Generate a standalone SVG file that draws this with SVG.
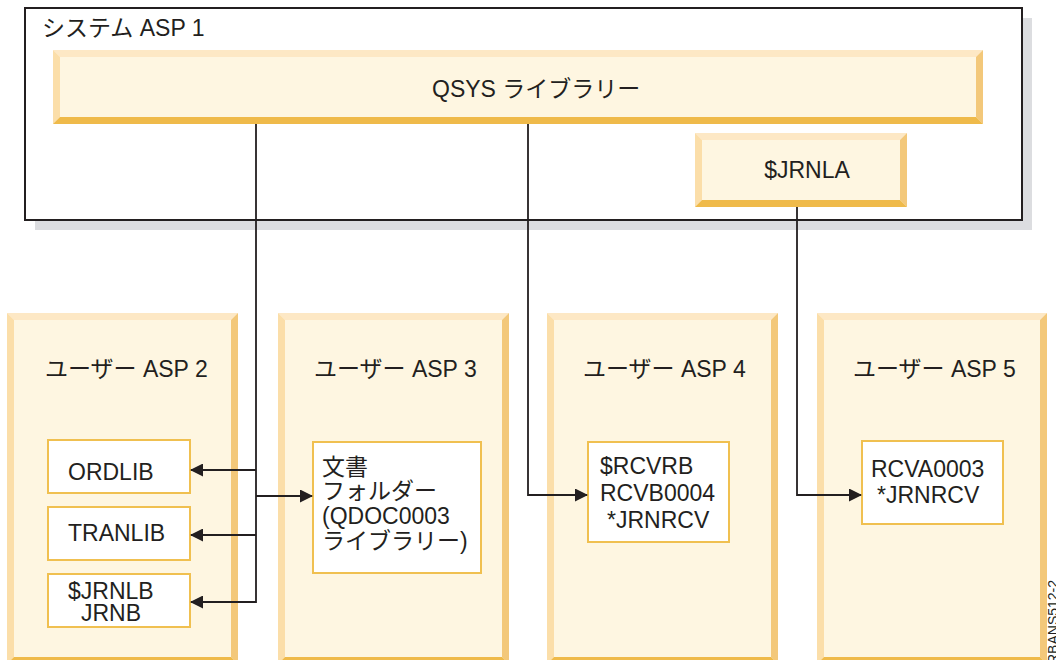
<svg xmlns="http://www.w3.org/2000/svg" width="1056" height="660" viewBox="0 0 1056 660">
<defs>
<style>
text{font-family:"Liberation Sans","Noto Sans CJK JP",sans-serif;font-size:23px;fill:#231f20}
.fill{fill:#fef6e1}
.bt{fill:#fde8c5}
.bl{fill:#fbdea9}
.br{fill:#f3c87a}
.bb{fill:#efba4a}
.lib{fill:#ffffff;stroke:#f0c050;stroke-width:2}
.conn{fill:none;stroke:#231f20;stroke-width:1.8}
</style>
<marker id="arr" markerUnits="userSpaceOnUse" markerWidth="13" markerHeight="13" refX="12" refY="6.5" orient="auto">
<path d="M0,0 L13,6.5 L0,13 z" fill="#231f20"/>
</marker>
</defs>
<rect width="1056" height="660" fill="#ffffff"/>

<g id="system-asp1">
<rect x="35" y="18" width="997" height="212" fill="#dcdde0"/>
<rect x="25" y="8" width="997" height="212" fill="#ffffff" stroke="#231f20" stroke-width="2"/>
<text x="42" y="36">システム ASP 1</text>
</g>

<g id="qsys">
<rect class="fill" x="53" y="50" width="930" height="74"/>
<polygon class="bt" points="53,50 983,50 976,57 60,57"/>
<polygon class="bl" points="53,50 60,57 60,117 53,124"/>
<polygon class="br" points="983,50 983,124 976,117 976,57"/>
<polygon class="bb" points="53,124 60,117 976,117 983,124"/>
<text x="432" y="97">QSYS ライブラリー</text>
</g>

<g id="jrnla">
<rect class="fill" x="695" y="133" width="212" height="74"/>
<polygon class="bt" points="695,133 907,133 900,140 702,140"/>
<polygon class="bl" points="695,133 702,140 702,200 695,207"/>
<polygon class="br" points="907,133 907,207 900,200 900,140"/>
<polygon class="bb" points="695,207 702,200 900,200 907,207"/>
<text x="807" y="178" text-anchor="middle">$JRNLA</text>
</g>

<g id="user-asp2">
<rect class="fill" x="7" y="313" width="231" height="351"/>
<polygon class="bt" points="7,313 238,313 231,320 14,320"/>
<polygon class="bl" points="7,313 14,320 14,657 7,664"/>
<polygon class="br" points="238,313 238,664 231,657 231,320"/>
<polygon class="bb" points="7,664 14,657 231,657 238,664"/>
<text x="45" y="377">ユーザー ASP 2</text>
</g>
<g id="ordlib">
<rect class="lib" x="48" y="440" width="142" height="53"/>
<text x="68" y="480">ORDLIB</text>
</g>
<g id="tranlib">
<rect class="lib" x="48" y="507" width="142" height="53"/>
<text x="68" y="541">TRANLIB</text>
</g>
<g id="jrnlb">
<rect class="lib" x="48" y="574" width="142" height="53"/>
<text x="68" y="599">$JRNLB</text>
<text x="81" y="621">JRNB</text>
</g>

<g id="user-asp3">
<rect class="fill" x="278" y="313" width="231" height="351"/>
<polygon class="bt" points="278,313 509,313 502,320 285,320"/>
<polygon class="bl" points="278,313 285,320 285,657 278,664"/>
<polygon class="br" points="509,313 509,664 502,657 502,320"/>
<polygon class="bb" points="278,664 285,657 502,657 509,664"/>
<text x="314" y="377">ユーザー ASP 3</text>
</g>
<g id="document-folder">
<rect class="lib" x="313" y="442" width="168" height="131"/>
<text x="322" y="475">文書</text>
<text x="322" y="499">フォルダー</text>
<text x="322" y="524">(QDOC0003</text>
<text x="322" y="549">ライブラリー)</text>
</g>

<g id="user-asp4">
<rect class="fill" x="547" y="313" width="231" height="351"/>
<polygon class="bt" points="547,313 778,313 771,320 554,320"/>
<polygon class="bl" points="547,313 554,320 554,657 547,664"/>
<polygon class="br" points="778,313 778,664 771,657 771,320"/>
<polygon class="bb" points="547,664 554,657 771,657 778,664"/>
<text x="583" y="377">ユーザー ASP 4</text>
</g>
<g id="rcvrb">
<rect class="lib" x="588" y="442" width="141" height="100"/>
<text x="600" y="474">$RCVRB</text>
<text x="600" y="501">RCVB0004</text>
<text x="607" y="528">*JRNRCV</text>
</g>

<g id="user-asp5">
<rect class="fill" x="817" y="313" width="230" height="351"/>
<polygon class="bt" points="817,313 1047,313 1040,320 824,320"/>
<polygon class="bl" points="817,313 824,320 824,657 817,664"/>
<polygon class="br" points="1047,313 1047,664 1040,657 1040,320"/>
<polygon class="bb" points="817,664 824,657 1040,657 1047,664"/>
<text x="853" y="377">ユーザー ASP 5</text>
</g>
<g id="rcva">
<rect class="lib" x="862" y="441" width="141" height="83"/>
<text x="871" y="477">RCVA0003</text>
<text x="877" y="503">*JRNRCV</text>
</g>

<g id="connectors">
<path class="conn" d="M256,124 V602 H191" marker-end="url(#arr)"/>
<path class="conn" d="M256,470 H191" marker-end="url(#arr)"/>
<path class="conn" d="M256,535 H191" marker-end="url(#arr)"/>
<path class="conn" d="M256,496 H312" marker-end="url(#arr)"/>
<path class="conn" d="M528,124 V495 H587" marker-end="url(#arr)"/>
<path class="conn" d="M797,207 V495 H861" marker-end="url(#arr)"/>
</g>

<text transform="translate(1058,664) rotate(-90)" style="font-size:14px">RBANS512-2</text>
</svg>
